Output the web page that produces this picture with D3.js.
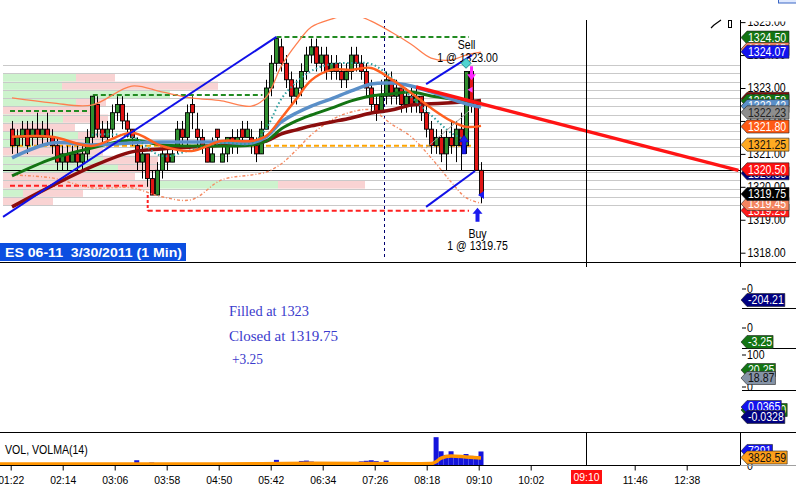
<!DOCTYPE html>
<html><head><meta charset="utf-8">
<script src="https://cdn.jsdelivr.net/npm/d3@7/dist/d3.min.js"></script>
<style>
html,body{margin:0;padding:0;background:#fff;overflow:hidden}
svg{display:block;font-family:Arial,"Liberation Sans",sans-serif}
</style></head><body>
<svg id="c" width="796" height="490"></svg>
<script>
// ================= DATA =================
const opens = [1321.75,1321.25,1321.50,1321.75,1321.50,1321.75,1321.50,1321.75,1321.50,1321.25,
 1320.75,1321.00,1320.75,1321.00,1320.75,1321.00,1321.50,1322.50,1321.75,1321.50,
 1321.75,1322.25,1322.50,1322.00,1321.75,1321.25,1320.75,1321.00,1320.25,1319.75,
 1320.50,1321.00,1320.75,1321.25,1321.75,1321.50,1322.50,1321.75,1321.50,1321.25,
 1320.75,1321.75,1320.75,1321.00,1321.50,1321.25,1321.75,1321.50,1321.50,1321.25,
 1321.00,1321.75,1323.00,1323.75,1324.25,1323.75,1323.25,1322.75,1323.00,1323.50,
 1324.00,1324.25,1323.75,1324.00,1323.50,1323.75,1323.50,1323.25,1323.50,1324.00,
 1323.75,1323.50,1323.00,1322.50,1322.25,1322.75,1323.25,1322.75,1323.00,1322.50,
 1322.75,1322.50,1322.75,1322.25,1321.75,1321.25,1321.50,1321.00,1321.50,1321.25,
 1321.75,1321.25,1323.50,1322.50,1320.50];
const highs = [1322.00,1321.75,1322.00,1322.00,1322.00,1322.25,1322.00,1322.25,1321.75,1321.50,
 1321.25,1321.25,1321.25,1321.25,1321.25,1321.75,1322.75,1322.75,1322.00,1322.00,
 1322.50,1322.75,1322.75,1322.25,1321.75,1321.50,1321.25,1321.00,1320.50,1320.75,
 1321.25,1321.25,1321.25,1322.00,1322.00,1322.50,1322.75,1322.25,1321.75,1321.25,
 1321.50,1321.75,1321.25,1321.50,1321.75,1321.75,1322.00,1322.00,1321.75,1321.50,
 1322.00,1323.25,1324.00,1324.50,1324.50,1324.00,1323.50,1323.25,1323.75,1324.25,
 1324.50,1324.50,1324.25,1324.25,1324.00,1324.00,1323.75,1323.75,1324.25,1324.25,
 1324.00,1323.75,1323.25,1322.75,1323.25,1323.50,1323.50,1323.25,1323.00,1323.00,
 1323.00,1323.00,1322.75,1322.50,1322.00,1321.75,1321.75,1321.75,1322.00,1322.00,
 1322.25,1323.50,1323.50,1322.50,1320.75];
const lows = [1321.00,1321.00,1321.25,1321.00,1321.25,1321.25,1321.25,1321.25,1321.00,1320.50,
 1320.50,1320.50,1320.75,1320.50,1320.50,1320.75,1321.25,1321.50,1321.25,1321.25,
 1321.50,1322.00,1321.75,1321.50,1321.25,1320.50,1320.25,1320.00,1319.75,1319.75,
 1320.25,1320.50,1320.75,1321.00,1321.25,1321.25,1321.75,1321.25,1321.00,1320.75,
 1320.75,1321.25,1320.75,1320.75,1321.00,1321.00,1321.25,1321.50,1321.00,1320.75,
 1321.00,1321.75,1322.75,1323.50,1323.50,1323.00,1322.50,1322.50,1322.75,1323.25,
 1323.75,1323.50,1323.50,1323.25,1323.25,1323.25,1323.00,1323.00,1323.25,1323.50,
 1323.25,1322.75,1322.25,1322.00,1322.25,1322.50,1322.50,1322.50,1322.25,1322.25,
 1322.25,1322.25,1322.00,1321.50,1321.00,1321.00,1320.75,1320.50,1321.00,1320.75,
 1320.50,1321.00,1322.25,1320.50,1319.50];
const closes = [1321.25,1321.50,1321.75,1321.25,1321.75,1321.50,1321.75,1321.50,1321.25,1320.75,
 1321.00,1320.75,1321.00,1320.75,1321.00,1321.50,1322.75,1321.75,1321.50,1321.75,
 1322.25,1322.50,1322.00,1321.75,1321.50,1320.75,1321.00,1320.25,1319.75,1320.50,
 1321.00,1320.75,1321.00,1321.75,1321.50,1322.25,1322.25,1321.50,1321.25,1320.75,
 1321.00,1321.50,1321.00,1321.50,1321.25,1321.50,1321.50,1321.75,1321.25,1321.00,
 1321.75,1323.00,1323.75,1324.50,1323.75,1323.25,1322.75,1323.00,1323.50,1324.00,
 1324.25,1323.75,1324.00,1323.50,1323.75,1323.50,1323.25,1323.50,1324.00,1323.75,
 1323.50,1323.00,1322.50,1322.25,1322.75,1323.25,1322.75,1323.00,1322.50,1322.75,
 1322.50,1322.75,1322.25,1321.75,1321.25,1321.50,1321.00,1321.50,1321.25,1321.75,
 1321.25,1323.50,1322.50,1320.50,1319.75];
const volumes = [420,380,510,300,450,390,600,350,480,520,
 310,440,380,560,470,390,900,820,500,430,
 610,540,380,450,700,2600,530,620,1400,880,
 650,480,420,560,510,640,720,480,390,450,
 520,410,380,470,500,430,460,420,480,520,
 760,1300,1100,2800,900,780,840,700,2200,2400,
 1900,700,640,580,520,600,560,540,700,620,
 2000,2300,2600,2100,640,2400,720,610,580,700,
 650,600,750,1350,1500,15200,7500,5500,7500,5000,
 4800,6000,5000,4500,7391];

// indicator samples (bar index -> value)
const maIdx  = [0,8,16,24,30,36,42,48,51,54,57,60,64,68,72,76,80,84,88,91,94];
const maSlow = [1319.39,1320.03,1320.61,1321.06,1321.15,1321.21,1321.26,1321.32,1321.39,1321.61,1321.73,1321.85,1321.97,1322.09,1322.24,1322.33,1322.48,1322.52,1322.55,1322.58,1322.62];
const maMid  = [1320.33,1320.85,1321.18,1321.42,1321.27,1321.24,1321.24,1321.27,1321.39,1321.76,1322.00,1322.18,1322.39,1322.61,1322.76,1322.82,1322.88,1322.76,1322.67,1322.61,1322.55];
const maBlue = [1320.88,1321.33,1321.27,1321.33,1321.36,1321.36,1321.36,1321.33,1321.52,1321.97,1322.24,1322.45,1322.67,1322.91,1323.12,1323.15,1323.06,1322.88,1322.67,1322.52,1322.42];
const maFast = [1321.52,1321.52,1321.24,1321.64,1321.24,1321.09,1321.39,1321.39,1321.55,1322.09,1322.67,1323.24,1323.55,1323.55,1323.61,1323.27,1322.85,1322.39,1322.00,1321.82,1321.85];
const maDot  = [null,null,1321.58,1321.52,1320.94,1321.12,1321.33,1321.33,1321.79,1322.67,1323.18,1323.52,1323.73,1323.76,1323.73,1323.33,1322.73,1322.18,1321.64,1321.42,null];
const bandUp = [1322.70,1322.55,1322.48,1323.06,1322.88,1322.70,1322.61,1322.45,1322.73,1323.67,1324.33,1324.85,1325.09,1325.24,1325.03,1324.70,1324.33,1323.91,1323.85,1324.00,1324.09];
const bandLo = [1320.36,1320.27,1319.97,1319.97,1319.70,1319.61,1320.21,1320.36,1320.45,1320.70,1321.12,1321.58,1322.03,1322.27,1322.33,1321.91,1321.52,1320.88,1320.15,1319.67,1319.50];
const volmaIdx = [0,20,40,60,80,84,85,86,88,91,94];
const volma    = [560,600,520,900,700,820,1800,3800,4900,4400,3828.59];

// price-volume profile rows (row centre price; + = bid volume, - = ask volume)
const profLevels = [1323.57,1323.32,1323.07,1322.82,1322.57,1322.32,1322.07,1321.82,1321.57,1321.32,1321.07,1320.82,1320.57,1320.32,1320.07,1319.82,1319.57];
const profSegs = [[],[730,-390],[590,-1560],[1670],[730,-300],[-900],[600,-450],[-720],[750,-300],[300,-700],[-1000],[1000,-550],[1150,-400],[-1320],[-1500,1250,-870],[200,-600],[-500]];

// horizontal levels: price, from bar, to bar, kind
const levelPrice = [1324.55,1322.79,1322.30,1320.03,1319.27,1321.25];
const levelFrom  = [53,16.2,-0.4,-0.4,27.2,-0.4];
const levelTo    = [91.6,50.2,15.6,26.6,91.6,93.2];
const levelKind  = ['hi','hi','hi','lo','lo','mid'];

// trend lines: [bar, price] -> [bar, price]
const trendFrom = [[-1.8,1319.09],[83,1323.12],[83,1319.39],[81,1323.03],[83,1321.18]];
const trendTo   = [[53,1324.55],[92.2,1324.00],[92.8,1320.48],[145.6,1320.50],[91.6,1322.30]];
const trendKind = ['blue','blue','blue','red','thin'];

const priceTicks = [1318,1319,1320,1321,1322,1323,1324,1325];
const timeTicks  = ["01:22","02:14","03:06","03:58","04:50","05:42","06:34","07:26","08:18","09:10","10:02","11:46","12:38"];
const cursorTime = "10:57", sessionTime = "07:35", cursorLabel = "09:10";

const tagValues = [1324.50,1324.15,1324.07,1322.64,1322.58,1322.42,1322.23,1321.80,1321.25,1320.38,1320.50,1319.25,1319.45,1319.75];
const tagSeries = ['hiLevel','bandUp','blueLvl','maSlow','maMid','maBlue','grayLvl','maFast','midLevel','navyLvl','last','loLevel','bandLo','trade'];

const indVals = [-204.21,-3.25,20.25,18.87,0.0412,0.0365,-0.0328];

const sellPrice = 1323.00, buyPrice = 1319.75, sellBar = 91, buyBar = 93.3;

// ================= STYLES =================
const S = {
  hiLevel:{f:'#137413',t:'#fff'}, bandUp:{f:'#ff8c69',t:'#fff'}, blueLvl:{f:'#1212ee',t:'#fff'},
  maSlow:{f:'#8b0a0a',t:'#fff'}, maMid:{f:'#137413',t:'#fff'}, maBlue:{f:'#5a8fc8',t:'#fff'},
  grayLvl:{f:'#8e8e8e',t:'#222'}, maFast:{f:'#ff5a14',t:'#fff'}, midLevel:{f:'#ffaa22',t:'#111'},
  navyLvl:{f:'#000080',t:'#fff'}, last:{f:'#ff1010',t:'#fff'}, loLevel:{f:'#ff1a1a',t:'#fff'},
  bandLo:{f:'#f4845f',t:'#fff'}, trade:{f:'#000',t:'#fff'}
};
const levelColor = {hi:'#228b22', lo:'#ff2020', mid:'#ffa500'};

// ================= SCALES =================
const N = closes.length;
const svg = d3.select('#c');
const toMin = s => { const [h,m] = s.split(':').map(Number); return h*60+m; };
const xI = d3.scaleLinear().domain([0, N-1]).range([12, 481]);
const yP = d3.scaleLinear().domain([1318, 1323]).range([252.7, 88]);
const xT = d3.scaleLinear().domain([toMin("01:22"), toMin("12:38")]).range([10.7, 686.7]);
const yV = d3.scaleLinear().domain([0, 15300]).range([465, 437]);
const xProf = d3.scaleLinear().domain([0, 7400]).range([0, 740]);

function squeeze(sel, f){
  let w = 0;
  sel.each(function(){ const n=this.getComputedTextLength(); w = n*f; this.setAttribute('textLength', w); this.setAttribute('lengthAdjust','spacingAndGlyphs'); });
  return w;
}

const defs = svg.append('defs');
defs.append('clipPath').attr('id','pc').append('rect').attr('x',0).attr('y',18).attr('width',740).attr('height',244);
defs.append('clipPath').attr('id','ac').append('rect').attr('x',738).attr('y',21.5).attr('width',60).attr('height',241);

const plot = svg.append('g').attr('clip-path','url(#pc)');

// profile
const rowH = yP(1322) - yP(1322.25);
profLevels.forEach((lv,k)=>{
  let x = 3;
  profSegs[k].forEach(v=>{
    const w = xProf(Math.abs(v));
    plot.append('rect').attr('x',x).attr('y',yP(lv+0.125)).attr('width',w).attr('height',rowH)
      .attr('fill', v>0 ? '#cdf3cd' : '#f9d3d3');
    x += w;
  });
});
// grid lines
const gridPrices = profLevels.map(l=>l+0.125).concat([profLevels[profLevels.length-1]-0.125]);
plot.selectAll('line.grid').data(gridPrices).join('line')
  .attr('x1',3).attr('x2',740).attr('y1',d=>Math.round(yP(d))+0.5).attr('y2',d=>Math.round(yP(d))+0.5)
  .attr('stroke','#c9c9c9').attr('stroke-width',1);
// last price line
plot.append('line').attr('x1',3).attr('x2',740).attr('y1',Math.round(yP(1320.5))+0.5).attr('y2',Math.round(yP(1320.5))+0.5)
  .attr('stroke','#000').attr('stroke-width',1);
// session dashed vertical, cursor vertical
const sx = Math.round(xT(toMin(sessionTime)))+0.5;
plot.append('line').attr('x1',sx).attr('x2',sx).attr('y1',20).attr('y2',258).attr('stroke','#000070').attr('stroke-dasharray','3,3');
const cx = Math.round(xT(toMin(cursorTime)))+0.5;
svg.append('line').attr('x1',cx).attr('x2',cx).attr('y1',20).attr('y2',262).attr('stroke','#000');

// level dashed lines
levelPrice.forEach((p,k)=>{
  plot.append('line').attr('x1',xI(levelFrom[k])).attr('x2',xI(levelTo[k])).attr('y1',yP(p)).attr('y2',yP(p))
    .attr('stroke',levelColor[levelKind[k]]).attr('stroke-width',2).attr('stroke-dasharray','5,3');
});
plot.append('line').attr('x1',xI(levelFrom[4])).attr('x2',xI(levelFrom[4])).attr('y1',yP(lows[28])).attr('y2',yP(levelPrice[4]))
  .attr('stroke','#ff2020').attr('stroke-width',2).attr('stroke-dasharray','3,2');

// candles
const cg = plot.append('g');
cg.selectAll('line').data(d3.range(N)).join('line')
  .attr('x1',i=>Math.round(xI(i))+0.5).attr('x2',i=>Math.round(xI(i))+0.5)
  .attr('y1',i=>yP(highs[i])).attr('y2',i=>yP(lows[i])).attr('stroke','#000').attr('stroke-width',1);
cg.selectAll('rect').data(d3.range(N)).join('rect')
  .attr('x',i=>Math.round(xI(i))-1.5).attr('width',4)
  .attr('y',i=>yP(Math.max(opens[i],closes[i])))
  .attr('height',i=>Math.max(1.5,Math.abs(yP(opens[i])-yP(closes[i]))))
  .attr('fill',i=>closes[i]>=opens[i]?'#2f8f2f':'#e01414').attr('stroke','#000').attr('stroke-width',0.9);

// MAs & bands
const line = d3.line().defined(d=>d[1]!=null).x(d=>xI(d[0])).y(d=>yP(d[1])).curve(d3.curveCatmullRom.alpha(0.5));
const ser = arr => maIdx.map((ix,k)=>[ix,arr[k]]);
plot.append('path').attr('d',line(ser(bandUp))).attr('fill','none').attr('stroke','#ff7f50').attr('stroke-width',1.3);
plot.append('path').attr('d',line(ser(bandLo))).attr('fill','none').attr('stroke','#f58a62').attr('stroke-width',1.4).attr('stroke-dasharray','3,2,1,2');
plot.append('path').attr('d',line(ser(maSlow))).attr('fill','none').attr('stroke','#8b0d0d').attr('stroke-width',3.5);
plot.append('path').attr('d',line(ser(maMid))).attr('fill','none').attr('stroke','#137413').attr('stroke-width',3);
plot.append('path').attr('d',line(ser(maBlue))).attr('fill','none').attr('stroke','#5a8fc8').attr('stroke-width',3.5);
plot.append('path').attr('d',line(ser(maDot))).attr('fill','none').attr('stroke','#2a9d9d').attr('stroke-width',2).attr('stroke-dasharray','1.5,2.5');
plot.append('path').attr('d',line(ser(maFast))).attr('fill','none').attr('stroke','#ff6020').attr('stroke-width',2.5);

// trend lines
const trendStyle = {blue:['#1010e8',2], red:['#ff1414',3.5], thin:['#9a9a9a',1]};
trendFrom.forEach((a,k)=>{
  const b = trendTo[k], st = trendStyle[trendKind[k]];
  plot.append('line').attr('x1',xI(a[0])).attr('y1',yP(a[1])).attr('x2',xI(b[0])).attr('y2',yP(b[1]))
    .attr('stroke',st[0]).attr('stroke-width',st[1]);
});

// trade labels
const lbl = (x,y,t)=>{ const s=svg.append('text').attr('x',x).attr('y',y).attr('text-anchor','middle').style('font-size','12px').attr('fill','#000').text(t); squeeze(s,0.88); };
lbl(xI(sellBar)+0.5, 48.5, 'Sell');
lbl(xI(sellBar)+1.5, 61.5, `1 @ ${sellPrice.toFixed(2)}`);
lbl(xI(buyBar), 237.5, 'Buy');
lbl(xI(buyBar), 249.5, `1 @ ${buyPrice.toFixed(2)}`);

// markers
const mx = xI(sellBar), my = yP(1323.75);
svg.append('path').attr('d',`M${mx},${my-5} L${mx+5},${my} L${mx},${my+5} L${mx-5},${my} Z`).attr('fill','#4fd4d0').attr('stroke','#2a8f8f');
const ax = xI(92)+0.5;
svg.append('path').attr('d',`M${ax-1.5},${yP(1323.66)} h3 v8 h3 l-4.5,6 l-4.5,-6 h3 Z`).attr('fill','#ff22ff');
svg.append('path').attr('d',`M${ax-4},${yP(1322.95)} l5,-3 v6 Z`).attr('fill','#ff44ff');
const bx = xI(90.6);
svg.append('path').attr('d',`M${bx-2},${yP(1321.0)} v-12 h-3 l5,-7 l5,7 h-3 v12 Z`).attr('fill','#1a1aee').attr('stroke','#000080').attr('stroke-width',0.5);
const ux = xI(buyBar);
svg.append('path').attr('d',`M${ux-2},${yP(1318.94)} v-8 h-3 l5,-6 l5,6 h-3 v8 Z`).attr('fill','#1a1aee');
svg.append('path').attr('d',`M${xI(94)-3},${yP(1319.75)} l6,-4 v8 Z`).attr('fill','#1a1aee');

// ================= AXES / FRAME =================
svg.append('line').attr('x1',0).attr('x2',796).attr('y1',262.5).attr('y2',262.5).attr('stroke','#000');
svg.append('line').attr('x1',0).attr('x2',796).attr('y1',432.5).attr('y2',432.5).attr('stroke','#000');
svg.append('line').attr('x1',740.5).attr('x2',740.5).attr('y1',20).attr('y2',262).attr('stroke','#000');
svg.append('line').attr('x1',740.5).attr('x2',740.5).attr('y1',262).attr('y2',267).attr('stroke','#000');
svg.append('line').attr('x1',cx).attr('x2',cx).attr('y1',262).attr('y2',267).attr('stroke','#000');
svg.append('line').attr('x1',740.5).attr('x2',740.5).attr('y1',432).attr('y2',465).attr('stroke','#000');
svg.append('line').attr('x1',cx).attr('x2',cx).attr('y1',432).attr('y2',465).attr('stroke','#000');

const yAx = svg.append('g').attr('clip-path','url(#ac)').append('g').attr('transform','translate(740.5,0)')
  .call(d3.axisRight(yP).tickValues(priceTicks).tickSize(5).tickPadding(2).tickFormat(d=>d.toFixed(2)));
yAx.select('.domain').remove();
yAx.selectAll('text').style('font-size','12px').attr('fill','#000').style('font-family','Arial, "Liberation Sans", sans-serif');
squeeze(yAx.selectAll('text'),0.88);
yAx.selectAll('line').attr('stroke','#000');

// tags
function tag(y, text, fill, tc, w0){
  const g = svg.append('g');
  const t = g.append('text').attr('x',748).attr('y',y+4.3).style('font-size','12px').attr('fill',tc).text(text);
  const w = squeeze(t,0.88);
  const W = (w0 || w) + 8;
  g.insert('path','text').attr('d',`M741,${y} L747,${y-6.5} H${741+W} V${y+6.5} H747 Z`)
    .attr('fill',fill).attr('stroke','#222').attr('stroke-width',0.6);
}
tagValues.forEach((v,k)=>{ const st=S[tagSeries[k]]; tag(yP(v)-1, v.toFixed(2), st.f, st.t, 40); });

// lower indicator panel
const lab = (y,t)=>{ svg.append('line').attr('x1',742).attr('x2',746).attr('y1',y-4).attr('y2',y-4).attr('stroke','#000'); const s=svg.append('text').attr('x',747).attr('y',y).style('font-size','12px').text(t); squeeze(s,0.88); };
lab(293,'0'); lab(332,'0'); lab(359,'100'); lab(391,'0');
[308,348,390].forEach(y=>svg.append('line').attr('x1',742).attr('x2',796).attr('y1',y+0.5).attr('y2',y+0.5).attr('stroke','#000'));
const indY = [300,342,370,378,410,407,417];
const indFill = [['#000080','#fff'],['#137413','#fff'],['#137413','#fff'],['#8593a6','#111'],['#137413','#fff'],['#1212ee','#fff'],['#000080','#fff']];
indVals.forEach((v,k)=>{
  const txt = Math.abs(v)<1 ? v.toFixed(4) : v.toFixed(2);
  tag(indY[k], k===4 ? '0.04120' : txt, indFill[k][0], indFill[k][1]);
});

// volume panel
svg.append('text').attr('x',5).attr('y',454).style('font-size','12px').text('VOL, VOLMA(14)').call(s=>squeeze(s,0.88));
svg.append('g').selectAll('rect').data(d3.range(N)).join('rect')
  .attr('x',i=>xI(i)-2.5).attr('width',5).attr('y',i=>yV(volumes[i])).attr('height',i=>465-yV(volumes[i]))
  .attr('fill','#1414dc');
const vline = d3.line().x(d=>xI(d[0])).y(d=>yV(d[1])).curve(d3.curveMonotoneX);
svg.append('path').attr('d',vline(volmaIdx.map((ix,k)=>[ix,volma[k]]))).attr('fill','none').attr('stroke','#ff9400').attr('stroke-width',3.5);
svg.append('path').attr('d',`M0,${yV(volma[0])} H${xI(0)}`).attr('stroke','#ff9400').attr('stroke-width',3.5);
const vs = svg.append('text').attr('x',747).attr('y',470).style('font-size','12px').text('0'); squeeze(vs,0.88);
tag(yV(volumes[N-1])-0.5, String(volumes[N-1]), '#1212ee', '#fff');
tag(yV(volma[volma.length-1])-0.5, volma[volma.length-1].toFixed(2), '#ff9f1a', '#111');

// x axis
svg.append('line').attr('x1',0).attr('x2',740).attr('y1',465.5).attr('y2',465.5).attr('stroke','#000');
svg.append('line').attr('x1',740).attr('x2',796).attr('y1',465.5).attr('y2',465.5).attr('stroke','#a0a0a0');
const xAx = svg.append('g').attr('transform','translate(0,465.5)')
  .call(d3.axisBottom(xT).tickValues(timeTicks.map(toMin)).tickSize(5).tickPadding(5)
    .tickFormat(m=>String(Math.floor(m/60)).padStart(2,'0')+':'+String(m%60).padStart(2,'0')));
xAx.select('.domain').remove();
xAx.selectAll('text').style('font-size','11.5px').attr('fill','#000').style('font-family','Arial, "Liberation Sans", sans-serif');
squeeze(xAx.selectAll('text'),0.9);
xAx.selectAll('line').attr('stroke','#000');
svg.append('rect').attr('x',cx-15.5).attr('y',470).attr('width',31).attr('height',14).attr('fill','#ff1010');
svg.append('text').attr('x',cx).attr('y',481).attr('text-anchor','middle').style('font-size','11.5px').attr('fill','#fff').text(cursorLabel).call(s=>squeeze(s,0.9));

// annotations
const ann = [['Filled at 1323',229,316,80],['Closed at 1319.75',229,341,109],['+3.25',232,364,31]];
ann.forEach(a=>svg.append('text').attr('x',a[1]).attr('y',a[2]).attr('textLength',a[3]).attr('lengthAdjust','spacingAndGlyphs')
  .style('font-family','"Liberation Serif","Times New Roman",serif').style('font-size','14.5px').attr('fill','#3b3bcc').text(a[0]));

// title badge
svg.append('rect').attr('x',0).attr('y',243).attr('width',186).attr('height',18).attr('fill','#0b4ee0');
svg.append('text').attr('x',5).attr('y',257).attr('textLength',177).attr('lengthAdjust','spacingAndGlyphs')
  .style('font-size','13px').style('font-weight','bold').style('white-space','pre').attr('fill','#fff').text('ES 06-11  3/30/2011 (1 Min)');

// top-right widgets
svg.append('path').attr('d','M711,28 L714,25 M714,25 L721,20').attr('stroke','#000').attr('stroke-width',1.2).attr('fill','none');
svg.append('rect').attr('x',728.5).attr('y',20.5).attr('width',3).attr('height',7).attr('fill','none').attr('stroke','#000');
svg.append('rect').attr('x',778.5).attr('y',-4).attr('width',19).attr('height',7).attr('fill','#dfe9ff').attr('stroke','#3a66c4');
</script>
</body></html>
